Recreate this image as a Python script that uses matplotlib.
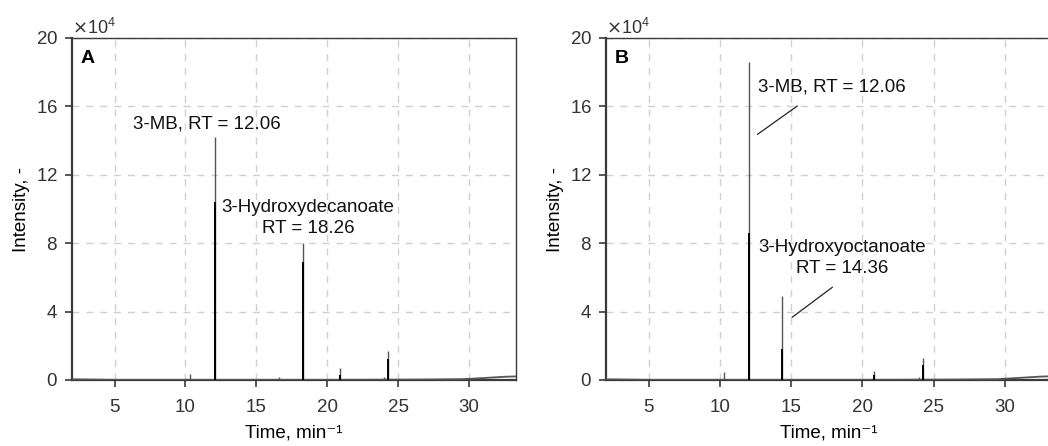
import matplotlib
matplotlib.use("Agg")
import matplotlib.pyplot as plt
from matplotlib.ticker import MultipleLocator

plt.rcParams["font.family"] = ["Liberation Sans", "DejaVu Sans"]

# Peak lists (retention time in min, intensity in counts)
a_peak_times = [10.3, 12.06, 16.6, 18.26, 20.9, 24.0, 24.25]
a_peak_heights = [3500, 142000, 2000, 80000, 7000, 2000, 17000]
a_inner_heights = [0, 104000, 0, 69000, 3000, 0, 12000]
a_base_times = [2.0, 5.0, 10.0, 15.0, 20.0, 25.0, 27.0, 29.5, 30.5, 31.5, 32.5, 33.3]
a_base_values = [400, 100, 100, 100, 100, 200, 300, 500, 900, 1400, 1900, 2100]

b_peak_times = [10.3, 12.06, 14.36, 20.8, 24.0, 24.25]
b_peak_heights = [4500, 186000, 49000, 5500, 2000, 13000]
b_inner_heights = [0, 86000, 18000, 3000, 0, 9000]
b_base_times = [2.0, 5.0, 10.0, 15.0, 20.0, 25.0, 27.0, 29.5, 30.5, 31.5, 32.5, 33.3]
b_base_values = [400, 100, 100, 100, 100, 200, 300, 500, 1000, 1500, 2000, 2200]

x_limits = (2.0, 33.3)
y_limits = (0, 200000)
x_ticks = [5, 10, 15, 20, 25, 30]
y_step = 40000

panels = [
    dict(ax_rect=[72 / 1048, 66 / 446, 444 / 1048, 342 / 446], tag="A",
         times=a_peak_times, heights=a_peak_heights, inner=a_inner_heights,
         bt=a_base_times, bv=a_base_values,
         labels=[("3-MB, RT = 12.06", 11.53, 149700, None),
                 ("3-Hydroxydecanoate\nRT = 18.26", 18.65, 94700, None)]),
    dict(ax_rect=[606 / 1048, 66 / 446, 446 / 1048, 342 / 446], tag="B",
         times=b_peak_times, heights=b_peak_heights, inner=b_inner_heights,
         bt=b_base_times, bv=b_base_values,
         labels=[("3-MB, RT = 12.06", 17.84, 171200, ((12.64, 143700), (15.42, 160200))),
                 ("3-Hydroxyoctanoate\nRT = 14.36", 18.58, 71300, ((15.07, 36700), (17.88, 54200)))]),
]

fig = plt.figure(figsize=(10.48, 4.46), dpi=100)
spine_col = "#3a3a3a"
fs = 13.5

for p in panels:
    ax = fig.add_axes(p["ax_rect"])
    ax.set_xlim(*x_limits)
    ax.set_ylim(*y_limits)
    ax.set_xticks(x_ticks)
    ax.yaxis.set_major_locator(MultipleLocator(y_step))
    ax.ticklabel_format(axis="y", style="sci", scilimits=(4, 4), useMathText=True)
    ax.yaxis.get_offset_text().set_fontsize(13)
    ax.yaxis.get_offset_text().set_color("#444444")
    ax.grid(True, linestyle=(0, (5, 5)), color="#d0d0d0", linewidth=1.0)
    ax.set_axisbelow(True)
    for s in ax.spines.values():
        s.set_color(spine_col)
        s.set_linewidth(1.0)
    ax.spines["left"].set_linewidth(1.6)
    ax.spines["bottom"].set_linewidth(1.6)
    ax.tick_params(axis="both", direction="out", length=5, width=1.2,
                   color=spine_col, labelsize=13.5, labelcolor="#333333",
                   top=False, right=False)
    ax.tick_params(axis="x", pad=9)
    ax.tick_params(axis="y", pad=5)

    # baseline and peaks
    ax.plot(p["bt"], p["bv"], color="#555555", linewidth=1.3, zorder=3)
    ax.vlines(p["times"], 0, p["heights"], color="#555555", linewidth=1.0, zorder=4)
    ax.vlines(p["times"], 0, p["inner"], color="black", linewidth=1.4, zorder=5)

    ax.text(0.02, 0.965, p["tag"], transform=ax.transAxes, fontsize=14,
            fontweight="bold", ha="left", va="top")
    for txt, x, y, lead in p["labels"]:
        ax.text(x, y, txt, fontsize=fs, ha="center", va="center",
                linespacing=1.3, color="#111111", zorder=6)
        if lead is not None:
            (x0, y0), (x1, y1) = lead
            ax.plot([x0, x1], [y0, y1], color="#222222", linewidth=0.9, zorder=6)

    ax.set_xlabel("Time, min\u207b\u00b9", fontsize=fs, labelpad=6)
    ax.set_ylabel("Intensity, -", fontsize=fs, labelpad=4)

fig.savefig("out.png", dpi=100)
